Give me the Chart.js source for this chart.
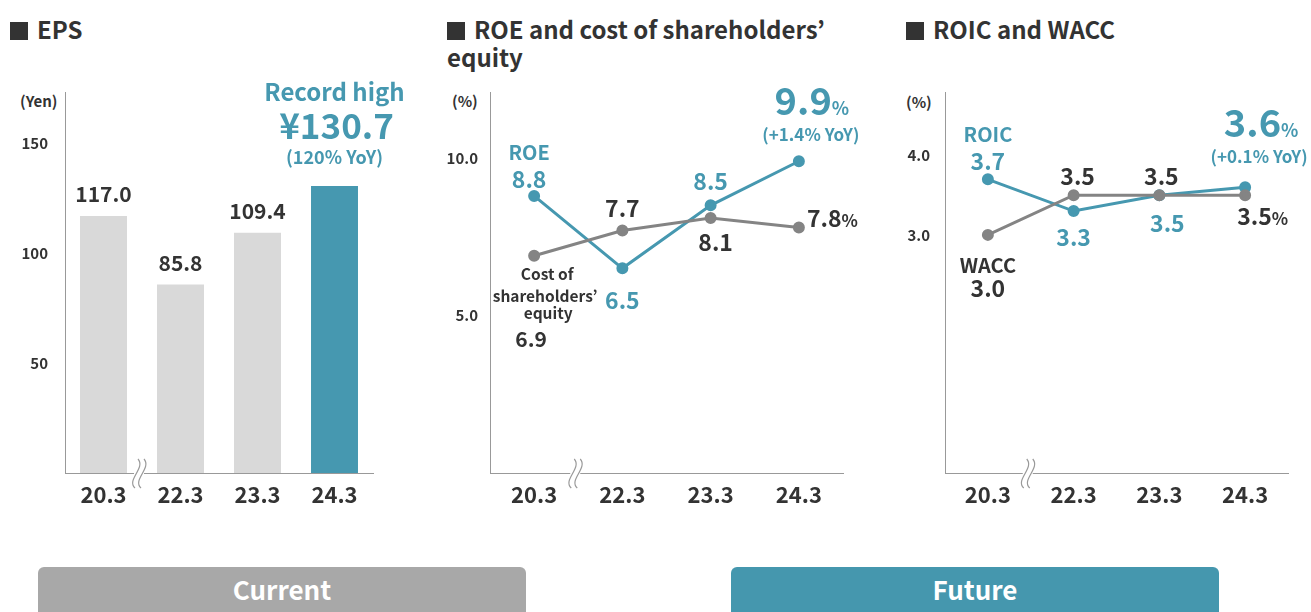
<!DOCTYPE html>
<html>
<head>
<meta charset="utf-8">
<script src="https://cdn.jsdelivr.net/npm/chart.js@4.4.1/dist/chart.umd.min.js"></script>
<style>
    body { margin: 0; width: 1311px; height: 612px; overflow: hidden; position: relative; background: #fff;
           font-family: "Noto Sans CJK JP", "Noto Sans", sans-serif; color: #333; }
    .title { position: absolute; top: 15px; font-weight: 700; font-size: 24px; line-height: 28px; }
    .title .sq { display: inline-block; width: 18px; height: 18px; background: #333; margin-right: 9px; vertical-align: -1px; }
    .unit { position: absolute; font-weight: 700; font-size: 15px; }
    .panel { position: absolute; top: 80px; }
    .btn { position: absolute; top: 567px; width: 488px; height: 60px; border-radius: 6px; color: #fff;
           font-weight: 700; font-size: 26px; line-height: 44px; text-align: center; }
</style>
</head>
<body>
<div class="title" style="left:10px"><span class="sq"></span>EPS</div>
<div class="title" style="left:447px;width:420px"><span class="sq"></span>ROE and cost of shareholders’ equity</div>
<div class="title" style="left:906px"><span class="sq"></span>ROIC and WACC</div>

<div class="unit" style="left:20px;top:90px">(Yen)</div>
<div class="unit" style="left:452px;top:90px">(%)</div>
<div class="unit" style="left:906px;top:91px">(%)</div>

<div class="panel" style="left:0px"><canvas id="epsChart" width="420" height="440"></canvas></div>
<div class="panel" style="left:430px"><canvas id="roeChart" width="430" height="440"></canvas></div>
<div class="panel" style="left:880px"><canvas id="roicChart" width="431" height="440"></canvas></div>

<div class="btn" style="left:38px;background:#a8a8a8">Current</div>
<div class="btn" style="left:731px;background:#4597ae">Future</div>

<script>
const years = ['20.3', '22.3', '23.3', '24.3'];

const eps = [117.0, 85.8, 109.4, 130.7];
const epsTicks = [50, 100, 150];

const roe = [8.8, 6.5, 8.5, 9.9];
const costOfEquity = [6.9, 7.7, 8.1, 7.8];
const roeTicks = [5, 10];

const roic = [3.7, 3.3, 3.5, 3.6];
const wacc = [3.0, 3.5, 3.5, 3.5];
const roicTicks = [3, 4];

const TEAL = '#4698b0';
const DARK = '#333333';
const GREY_LINE = '#848484';
const BAR_GREY = '#d9d9d9';
const FONT = '"Noto Sans CJK JP", "Noto Sans", sans-serif';

// text labels hung off data points (dx/dy from the point, dy is the text baseline)
const notesPlugin = {
    id: 'notes',
    afterDatasetsDraw(chart, args, opts) {
        const ctx = chart.ctx;
        (opts.items || []).forEach(n => {
            const el = chart.getDatasetMeta(n.ds).data[n.i];
            const x = el.x + (n.dx || 0);
            const y = el.y + n.dy;
            const parts = n.parts || [[n.text, n.size]];
            ctx.save();
            ctx.fillStyle = n.color;
            ctx.textBaseline = 'alphabetic';
            const widths = parts.map(p => {
                ctx.font = `700 ${p[1]}px ${FONT}`;
                return ctx.measureText(p[0]).width;
            });
            const total = widths.reduce((a, b) => a + b, 0);
            let cx = n.align === 'left' ? x : x - total / 2;
            parts.forEach((p, k) => {
                ctx.font = `700 ${p[1]}px ${FONT}`;
                ctx.fillText(p[0], cx, y);
                cx += widths[k];
            });
            ctx.restore();
        });
    }
};

// little break mark on the x axis between the first two years
const breakPlugin = {
    id: 'axisBreak',
    afterDraw(chart) {
        const xs = chart.scales.x;
        const ctx = chart.ctx;
        const bx = (xs.getPixelForTick(0) + xs.getPixelForTick(1)) / 2 - 3;
        const by = chart.chartArea.bottom + 1;
        ctx.save();
        ctx.fillStyle = '#fff';
        ctx.fillRect(bx - 5, by - 3, 10, 5);
        ctx.strokeStyle = '#999';
        ctx.lineWidth = 1.2;
        [-3, 3].forEach(off => {
            ctx.beginPath();
            ctx.moveTo(bx + off + 2, by - 15);
            ctx.bezierCurveTo(bx + off + 10, by - 6, bx + off - 10, by + 6, bx + off - 1, by + 14);
            ctx.stroke();
        });
        ctx.restore();
    }
};

function scales(min, max, tickVals, yWidth, tickPad, fmt) {
    return {
        x: {
            offset: true,
            grid: { display: false, drawTicks: false },
            border: { color: '#999999', width: 1 },
            ticks: { color: DARK, font: { family: FONT, size: 22, weight: '700' }, padding: 8 },
            afterFit(s) {
                s.height = 47;
                s.paddingLeft = 0;
                s.paddingRight = 0;
            }
        },
        y: {
            min: min,
            max: max,
            grid: { display: false, drawTicks: false },
            border: { color: '#999999', width: 1 },
            afterBuildTicks(s) { s.ticks = tickVals.map(v => ({ value: v })); },
            ticks: { color: DARK, font: { family: FONT, size: 15, weight: '700' }, padding: tickPad,
                     callback: v => fmt(v) },
            afterFit(s) {
                s.width = yWidth;
                s.paddingTop = 0;
                s.paddingBottom = 0;
            }
        }
    };
}

function lineSet(data, color) {
    return {
        data: data,
        borderColor: color,
        backgroundColor: color,
        borderWidth: 3,
        pointRadius: 4.5,
        pointHoverRadius: 4.5,
        tension: 0
    };
}

const commonOpts = {
    responsive: false,
    animation: false,
    events: [],
    plugins: { legend: { display: false }, tooltip: { enabled: false } }
};

// EPS
new Chart(document.getElementById('epsChart'), {
    type: 'bar',
    data: {
        labels: years,
        datasets: [{
            data: eps,
            backgroundColor: eps.map((v, i) => i === eps.length - 1 ? TEAL : BAR_GREY),
            categoryPercentage: 0.61,
            barPercentage: 1
        }]
    },
    options: {
        ...commonOpts,
        layout: { padding: { left: 0, top: 12, right: 47, bottom: 0 } },
        scales: scales(0, 173.5, epsTicks, 65, 17, v => String(v)),
        plugins: {
            ...commonOpts.plugins,
            notes: {
                items: [
                    ...eps.slice(0, 3).map((v, i) => ({ ds: 0, i: i, dy: -14, text: v.toFixed(1), size: 21, color: DARK })),
                    { ds: 0, i: 3, dy: -85, text: 'Record high', size: 24, color: TEAL },
                    { ds: 0, i: 3, dy: -47, dx: 2, text: '¥' + eps[3].toFixed(1), size: 35, color: TEAL },
                    { ds: 0, i: 3, dy: -22, text: '(120% YoY)', size: 18, color: TEAL }
                ]
            }
        }
    },
    plugins: [notesPlugin, breakPlugin]
});

// ROE and cost of shareholders' equity
new Chart(document.getElementById('roeChart'), {
    type: 'line',
    data: {
        labels: years,
        datasets: [lineSet(costOfEquity, GREY_LINE), lineSet(roe, TEAL)]
    },
    options: {
        ...commonOpts,
        layout: { padding: { left: 0, top: 12, right: 17, bottom: 0 } },
        scales: scales(0, 12.1, roeTicks, 60, 12, v => v.toFixed(1)),
        plugins: {
            ...commonOpts.plugins,
            notes: {
                items: [
                    { ds: 1, i: 0, dx: -5, dy: -36, text: 'ROE', size: 20, color: TEAL },
                    { ds: 1, i: 0, dx: -5, dy: -8, text: roe[0].toFixed(1), size: 23, color: TEAL },
                    { ds: 1, i: 1, dy: 41, text: roe[1].toFixed(1), size: 23, color: TEAL },
                    { ds: 1, i: 2, dy: -15, text: roe[2].toFixed(1), size: 23, color: TEAL },
                    { ds: 1, i: 3, dx: 13, dy: -46, parts: [[roe[3].toFixed(1), 38], ['%', 18]], color: TEAL },
                    { ds: 1, i: 3, dx: 12, dy: -20, text: '(+1.4% YoY)', size: 17, color: TEAL },
                    { ds: 0, i: 0, dx: 13, dy: 24, text: 'Cost of', size: 15.5, color: DARK },
                    { ds: 0, i: 0, dx: 11, dy: 46, text: 'shareholders’', size: 15.5, color: DARK },
                    { ds: 0, i: 0, dx: 14, dy: 63, text: 'equity', size: 15.5, color: DARK },
                    { ds: 0, i: 0, dx: -3, dy: 91, text: costOfEquity[0].toFixed(1), size: 21, color: DARK },
                    { ds: 0, i: 1, dy: -14, text: costOfEquity[1].toFixed(1), size: 23, color: DARK },
                    { ds: 0, i: 2, dx: 5, dy: 33, text: costOfEquity[2].toFixed(1), size: 23, color: DARK },
                    { ds: 0, i: 3, dx: 8, dy: 0, align: 'left', parts: [[costOfEquity[3].toFixed(1), 23], ['%', 17]], color: DARK }
                ]
            }
        }
    },
    plugins: [notesPlugin, breakPlugin]
});

// ROIC and WACC
new Chart(document.getElementById('roicChart'), {
    type: 'line',
    data: {
        labels: years,
        datasets: [lineSet(wacc, GREY_LINE), lineSet(roic, TEAL)]
    },
    options: {
        ...commonOpts,
        layout: { padding: { left: 0, top: 12, right: 23, bottom: 0 } },
        scales: scales(0, 4.8, roicTicks, 65, 15, v => v.toFixed(1)),
        plugins: {
            ...commonOpts.plugins,
            notes: {
                items: [
                    { ds: 1, i: 0, dy: -37, text: 'ROIC', size: 20, color: TEAL },
                    { ds: 1, i: 0, dy: -9, text: roic[0].toFixed(1), size: 23, color: TEAL },
                    { ds: 1, i: 1, dy: 35, text: roic[1].toFixed(1), size: 23, color: TEAL },
                    { ds: 1, i: 2, dx: 8, dy: 37, text: roic[2].toFixed(1), size: 23, color: TEAL },
                    { ds: 1, i: 3, dx: 16, dy: -50, parts: [[roic[3].toFixed(1), 38], ['%', 18]], color: TEAL },
                    { ds: 1, i: 3, dx: 14, dy: -24, text: '(+0.1% YoY)', size: 17, color: TEAL },
                    { ds: 0, i: 0, dy: 38, text: 'WACC', size: 20, color: DARK },
                    { ds: 0, i: 0, dy: 62, text: wacc[0].toFixed(1), size: 23, color: DARK },
                    { ds: 0, i: 1, dx: 4, dy: -10, text: wacc[1].toFixed(1), size: 23, color: DARK },
                    { ds: 0, i: 2, dx: 2, dy: -10, text: wacc[2].toFixed(1), size: 23, color: DARK },
                    { ds: 0, i: 3, dx: -8, dy: 30, align: 'left', parts: [[wacc[3].toFixed(1), 23], ['%', 17]], color: DARK }
                ]
            }
        }
    },
    plugins: [notesPlugin, breakPlugin]
});
</script>
</body>
</html>
